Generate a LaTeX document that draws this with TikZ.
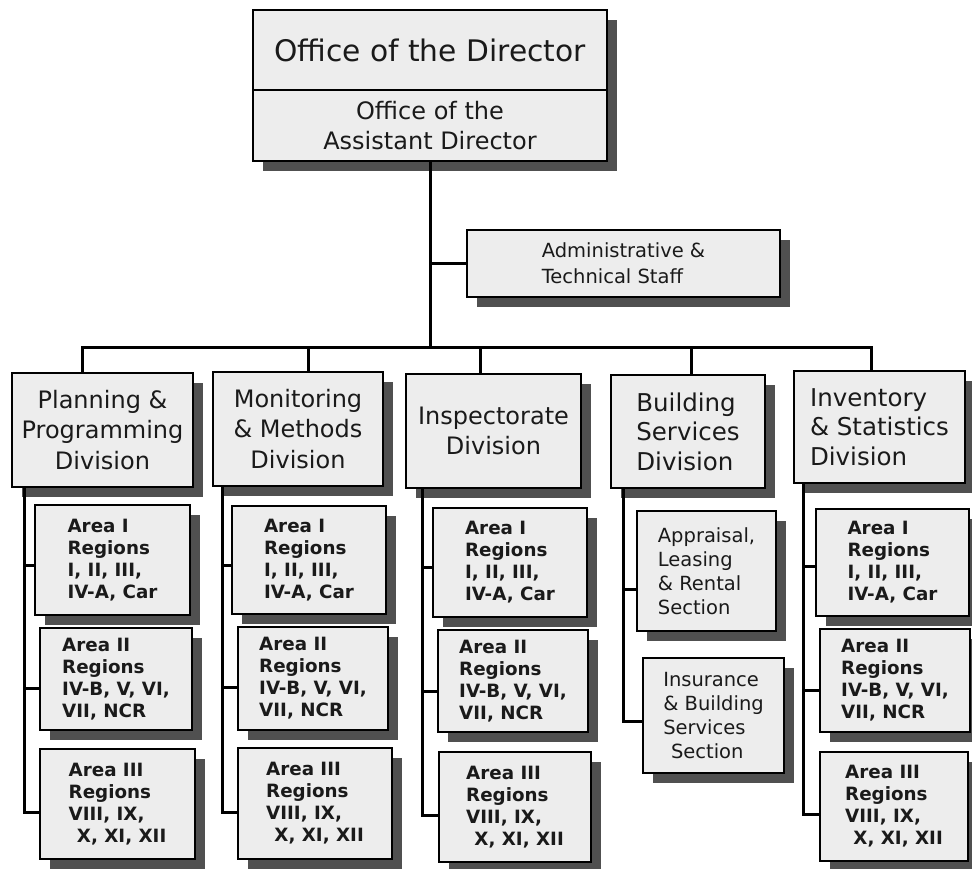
\documentclass[tikz,border=0pt]{standalone}
\usepackage{fontspec}
\setmainfont{DejaVu Sans}
\usetikzlibrary{shadows}
\definecolor{boxfill}{HTML}{EDEDED}
\definecolor{shade}{HTML}{505050}
\definecolor{ink}{HTML}{1A1A1A}
\tikzset{
  card/.style={draw=black, line width=1.6pt, fill=boxfill, inner sep=0pt,
    text=ink, drop shadow={shadow xshift=10pt, shadow yshift=-10pt, fill=shade, opacity=1}},
  link/.style={line width=3pt, black},
  headtext/.style={font=\fontsize{29.7}{36}\selectfont, align=center},
  subtext/.style={font=\fontsize{24}{30.5}\selectfont, align=center},
  divc/.style={font=\fontsize{24}{30.5}\selectfont, align=center},
  divl/.style={font=\fontsize{24.5}{29.5}\selectfont, align=left},
  stafftext/.style={font=\fontsize{19.5}{26}\selectfont, align=left},
  secttext/.style={font=\fontsize{19.5}{24}\selectfont, align=left},
  areatext/.style={font=\bfseries\fontsize{18.3}{22}\selectfont, align=left},
}
\newcommand{\areaone}{Area I\\Regions\\I, II, III,\\IV-A, Car}
\newcommand{\areatwo}{Area II\\Regions\\IV-B, V, VI,\\VII, NCR}
\newcommand{\areathree}{Area III\\Regions\\VIII, IX,\\\hspace*{0.45em}X, XI, XII}
\begin{document}
\begin{tikzpicture}[x=1pt, y=-1pt]
\useasboundingbox[fill=white] (0,0) rectangle (972,868);

% director and assistant director
\node[card, headtext, minimum width=354pt, minimum height=80pt] (dir) at (430,50) {Office of the Director};
\node[card, subtext, minimum width=354pt, minimum height=71pt] (asst) at (430,125.5) {Office of the\\Assistant Director};

% staff unit
\node[card, stafftext, minimum width=313pt, minimum height=67pt] (admin) at (623.5,263.5) {Administrative \&\\Technical Staff};

% divisions
\node[card, divc, minimum width=181pt, minimum height=114pt] (plan) at (102.5,430) {Planning \&\\Programming\\Division};
\node[card, divc, minimum width=170pt, minimum height=114pt] (mon) at (298,429) {Monitoring\\\& Methods\\Division};
\node[card, divc, minimum width=175pt, minimum height=114pt] (insp) at (493.5,431) {Inspectorate\\Division};
\node[card, divl, minimum width=154pt, minimum height=113pt] (bld) at (688,431.5) {Building\\Services\\Division};
\node[card, divl, minimum width=171pt, minimum height=112pt] (inv) at (879.5,427) {Inventory\\\& Statistics\\Division};

% planning areas
\node[card, areatext, minimum width=155pt, minimum height=110pt] (p1) at (112.5,560) {\areaone};
\node[card, areatext, minimum width=152pt, minimum height=102pt] (p2) at (116,679) {\areatwo};
\node[card, areatext, minimum width=155pt, minimum height=110pt] (p3) at (117.5,804) {\areathree};

% monitoring areas
\node[card, areatext, minimum width=154pt, minimum height=108pt] (m1) at (309,560) {\areaone};
\node[card, areatext, minimum width=150pt, minimum height=103pt] (m2) at (313,678.5) {\areatwo};
\node[card, areatext, minimum width=154pt, minimum height=111pt] (m3) at (315,803.5) {\areathree};

% inspectorate areas
\node[card, areatext, minimum width=154pt, minimum height=109pt] (i1) at (510,562.5) {\areaone};
\node[card, areatext, minimum width=150pt, minimum height=102pt] (i2) at (513,681) {\areatwo};
\node[card, areatext, minimum width=152pt, minimum height=110pt] (i3) at (515,807) {\areathree};

% building services sections
\node[card, secttext, minimum width=139pt, minimum height=120pt] (s1) at (706.5,571) {Appraisal,\\Leasing\\\& Rental\\Section};
\node[card, secttext, minimum width=141pt, minimum height=115pt] (s2) at (713.5,715.5) {Insurance\\\& Building\\Services\\\hspace*{0.4em}Section};

% inventory areas
\node[card, areatext, minimum width=153pt, minimum height=107pt] (v1) at (892.5,562.5) {\areaone};
\node[card, areatext, minimum width=150pt, minimum height=103pt] (v2) at (895,680.5) {\areatwo};
\node[card, areatext, minimum width=148pt, minimum height=109pt] (v3) at (894,806.5) {\areathree};

% main trunk, staff branch and division bar
\coordinate (d1) at (82,347);
\coordinate (d2) at (308,347);
\coordinate (d3) at (480,347);
\coordinate (d4) at (691,347);
\coordinate (d5) at (871,347);
\draw[link] (asst.south) -- (asst.south |- d1);
\draw[link] (asst.south |- admin.west) -- (admin.west);
\draw[link, line cap=rect] (d1) -- (d5);
\draw[link] (d1) -- (d1 |- plan.north);
\draw[link] (d2) -- (d2 |- mon.north);
\draw[link] (d3) -- (d3 |- insp.north);
\draw[link] (d4) -- (d4 |- bld.north);
\draw[link] (d5) -- (d5 |- inv.north);

% column spines
\coordinate (cp) at (24,0);
\coordinate (cm) at (222,0);
\coordinate (ci) at (422,0);
\coordinate (cb) at (623,0);
\coordinate (cv) at (803,0);

% junction points on the sub-boxes
\coordinate (p1j) at ([yshift=-5pt]p1.west);
\coordinate (p2j) at ([yshift=-9pt]p2.west);
\coordinate (p3j) at ([yshift=-8pt]p3.west);
\coordinate (m1j) at ([yshift=-5pt]m1.west);
\coordinate (m2j) at ([yshift=-9pt]m2.west);
\coordinate (m3j) at ([yshift=-9pt]m3.west);
\coordinate (i1j) at ([yshift=-5pt]i1.west);
\coordinate (i2j) at ([yshift=-10pt]i2.west);
\coordinate (i3j) at ([yshift=-8pt]i3.west);
\coordinate (s1j) at ([yshift=-18pt]s1.west);
\coordinate (s2j) at ([yshift=-6pt]s2.west);
\coordinate (v1j) at ([yshift=-4pt]v1.west);
\coordinate (v2j) at ([yshift=-10pt]v2.west);
\coordinate (v3j) at ([yshift=-8pt]v3.west);

\draw[link] (cp |- plan.south) |- (p3j);
\draw[link] (cp |- p1j) -- (p1j);
\draw[link] (cp |- p2j) -- (p2j);

\draw[link] (cm |- mon.south) |- (m3j);
\draw[link] (cm |- m1j) -- (m1j);
\draw[link] (cm |- m2j) -- (m2j);

\draw[link] (ci |- insp.south) |- (i3j);
\draw[link] (ci |- i1j) -- (i1j);
\draw[link] (ci |- i2j) -- (i2j);

\draw[link] (cb |- bld.south) |- (s2j);
\draw[link] (cb |- s1j) -- (s1j);

\draw[link] (cv |- inv.south) |- (v3j);
\draw[link] (cv |- v1j) -- (v1j);
\draw[link] (cv |- v2j) -- (v2j);
\end{tikzpicture}
\end{document}
